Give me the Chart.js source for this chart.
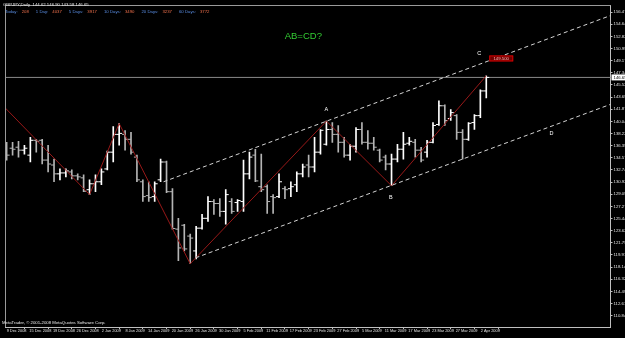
<!DOCTYPE html>
<html>
<head>
<meta charset="utf-8">
<script src="https://cdn.jsdelivr.net/npm/chart.js@4.4.0/dist/chart.umd.min.js"></script>
<style>
  html, body { margin: 0; padding: 0; background: #000; }
  #wrap { width: 625px; height: 338px; position: relative; }
</style>
</head>
<body>
<div id="wrap"><canvas id="chart"></canvas></div>
<script>
// GBPJPY daily bars, 8 Dec 2008 - 2 Apr 2009
const dates = [
  '8 Dec 2008','9 Dec 2008','10 Dec 2008','11 Dec 2008','12 Dec 2008',
  '15 Dec 2008','16 Dec 2008','17 Dec 2008','18 Dec 2008','19 Dec 2008',
  '22 Dec 2008','23 Dec 2008','24 Dec 2008','26 Dec 2008',
  '29 Dec 2008','30 Dec 2008','31 Dec 2008','2 Jan 2009',
  '5 Jan 2009','6 Jan 2009','7 Jan 2009','8 Jan 2009','9 Jan 2009',
  '12 Jan 2009','13 Jan 2009','14 Jan 2009','15 Jan 2009','16 Jan 2009',
  '19 Jan 2009','20 Jan 2009','21 Jan 2009','22 Jan 2009','23 Jan 2009',
  '26 Jan 2009','27 Jan 2009','28 Jan 2009','29 Jan 2009','30 Jan 2009',
  '2 Feb 2009','3 Feb 2009','4 Feb 2009','5 Feb 2009','6 Feb 2009',
  '9 Feb 2009','10 Feb 2009','11 Feb 2009','12 Feb 2009','13 Feb 2009',
  '16 Feb 2009','17 Feb 2009','18 Feb 2009','19 Feb 2009','20 Feb 2009',
  '23 Feb 2009','24 Feb 2009','25 Feb 2009','26 Feb 2009','27 Feb 2009',
  '2 Mar 2009','3 Mar 2009','4 Mar 2009','5 Mar 2009','6 Mar 2009',
  '9 Mar 2009','10 Mar 2009','11 Mar 2009','12 Mar 2009','13 Mar 2009',
  '16 Mar 2009','17 Mar 2009','18 Mar 2009','19 Mar 2009','20 Mar 2009',
  '23 Mar 2009','24 Mar 2009','25 Mar 2009','26 Mar 2009','27 Mar 2009',
  '30 Mar 2009','31 Mar 2009','1 Apr 2009','2 Apr 2009'
];

const opens = [
  135.72,136.01,136.16,135.72,134.97,137.20,137.20,134.23,133.49,132.16,
  132.30,132.45,131.86,131.56,129.78,130.67,130.97,132.90,135.42,138.09,
  138.09,137.35,134.68,130.97,128.89,128.74,131.26,133.94,129.48,123.85,
  124.44,122.81,120.58,124.00,125.48,128.00,127.70,126.52,128.00,127.85,
  128.00,132.16,134.97,130.23,130.23,128.74,128.74,129.93,129.93,130.52,
  132.16,133.49,133.19,135.42,136.61,138.83,138.09,136.90,134.97,136.31,
  138.83,136.90,136.76,135.72,134.68,133.64,134.38,135.86,136.76,136.90,
  135.72,135.42,136.90,139.58,142.39,140.47,140.91,138.39,137.35,139.87,
  140.91,144.62
];
const highs = [
  136.90,136.90,137.05,136.46,137.65,137.35,137.35,136.46,134.38,132.90,
  132.90,132.75,132.16,132.01,131.26,132.01,132.90,135.57,139.28,139.72,
  138.68,138.39,134.97,131.26,130.97,130.97,134.38,134.08,129.93,125.48,
  124.59,123.10,124.29,126.07,128.74,128.30,128.45,129.78,128.45,128.30,
  134.23,135.42,135.86,135.12,130.52,129.04,132.16,130.23,130.97,132.45,
  133.64,134.97,137.65,138.83,140.09,139.87,139.43,137.65,136.61,139.13,
  139.87,138.68,137.65,135.90,134.97,135.12,136.61,138.39,137.65,137.35,
  136.16,137.20,139.87,143.14,142.54,141.80,141.06,138.83,139.87,141.06,
  144.77,146.90
];
const lows = [
  134.23,134.97,134.68,135.12,133.94,135.42,133.64,132.45,130.97,131.26,
  131.71,131.41,131.26,129.48,129.04,129.48,130.52,132.75,133.94,136.46,
  135.72,135.12,130.97,128.00,128.00,128.00,130.97,129.34,123.85,119.10,
  120.58,118.65,119.39,123.85,125.03,126.07,125.77,124.59,126.22,126.52,
  126.52,131.41,130.97,129.48,126.22,126.22,128.60,128.45,128.74,129.48,
  131.71,131.71,132.45,135.12,136.46,136.90,135.42,134.68,134.23,135.42,
  136.61,135.86,135.72,133.94,132.75,130.37,133.94,134.38,136.46,134.68,
  133.94,134.68,136.80,139.43,139.43,140.17,137.35,134.38,137.20,138.83,
  140.61,143.58
];
const closes = [
  134.97,135.86,135.72,136.01,137.20,137.05,134.23,133.64,132.16,132.30,
  132.60,131.86,131.71,129.55,130.67,130.97,132.45,135.42,138.09,138.24,
  137.35,135.42,131.26,128.74,128.59,130.67,133.94,129.48,123.95,121.03,
  120.88,122.51,124.00,125.48,128.00,127.70,126.52,129.04,126.52,128.15,
  132.16,134.68,131.10,129.78,128.00,128.59,130.97,129.78,130.23,132.16,
  133.19,133.19,135.42,138.70,138.83,138.09,136.90,134.97,136.31,138.83,
  136.90,136.76,136.16,134.23,133.64,134.38,135.86,136.61,137.05,135.72,
  134.23,136.90,139.43,142.39,140.17,141.36,138.39,137.35,139.75,140.91,
  144.62,146.65
];

// date labels shown every 4 bars
const xLabelIdx = [1,5,9,13,17,21,25,29,33,37,41,45,49,53,57,61,65,69,73,77,81];
const yTicks = [
  110.845,112.670,114.495,116.320,118.145,119.970,121.795,123.620,125.445,
  127.270,129.095,130.920,132.745,134.570,136.395,138.220,140.045,141.870,
  143.695,145.520,147.345,149.170,150.995,152.820,154.645,156.470
];

// zigzag swings and the channel lines (bar index, price)
const zigzag = [
  {x:-4, y:145.50}, {x:14, y:129.04}, {x:19, y:139.72}, {x:31, y:118.65},
  {x:54, y:140.09}, {x:65, y:130.37}, {x:81, y:146.90}
];
const channelUpper = [{x:26.5, y:130.97}, {x:110, y:158.60}];
const channelLower = [{x:31.9, y:119.54}, {x:110, y:145.24}];
const bidPrice = 146.65;

const notes = [
  {text:'A', x:54, y:141.80},
  {text:'B', x:64.9, y:128.59},
  {text:'C', x:79.8, y:150.26},
  {text:'D', x:92, y:138.24}
];
const statNames = ['Today:','1 Day:','5 Days:','10 Days:','20 Days:','60 Days:'];
const statValues = ['208','4037','3917','3490','3237','3772'];

const SMALL = '4.3px "Liberation Sans", Arial, sans-serif';
const upColor = '#ffffff', downColor = '#b4b4b4';
const barColors = closes.map((c, i) => c >= opens[i] ? upColor : downColor);

const overlay = {
  id: 'overlay',
  afterDraw(chart) {
    const {ctx, chartArea: a, scales: {x, y}} = chart;
    ctx.save();
    // top / left frame
    ctx.strokeStyle = '#9a9a9a';
    ctx.lineWidth = 1;
    ctx.beginPath();
    ctx.moveTo(a.left + 0.5, a.bottom);
    ctx.lineTo(a.left + 0.5, a.top + 0.5);
    ctx.lineTo(a.right, a.top + 0.5);
    ctx.stroke();

    ctx.textBaseline = 'middle';
    ctx.font = SMALL;
    ctx.fillStyle = '#e6e6e6';
    ctx.fillText('GBPJPY,Daily  ' + [opens[81], highs[81], lows[81], closes[81]].map(v => v.toFixed(2)).join(' '), 3, 5);

    // stats row: name then value, in columns
    let cx = 5;
    statNames.forEach((n, i) => {
      ctx.fillStyle = '#5b8fe6';
      ctx.fillText(n, cx, 12);
      cx += ctx.measureText(n).width + 4;
      ctx.fillStyle = '#f0704c';
      ctx.fillText(statValues[i], cx, 12);
      cx += ctx.measureText(statValues[i]).width + 7;
    });

    ctx.fillStyle = '#e6e6e6';
    ctx.fillText('MetaTrader, \u00a9 2001-2008 MetaQuotes Software Corp.', 2, 323);

    // pattern labels
    ctx.textAlign = 'center';
    ctx.font = '5.5px "Liberation Sans", Arial, sans-serif';
    ctx.fillStyle = '#ffffff';
    notes.forEach(n => ctx.fillText(n.text, x.getPixelForValue(n.x), y.getPixelForValue(n.y)));

    ctx.font = '9.5px "Liberation Sans", Arial, sans-serif';
    ctx.fillStyle = '#33cc33';
    ctx.fillText('AB=CD?', x.getPixelForValue(50.1), y.getPixelForValue(152.78));

    // target price tag
    const tx = x.getPixelForValue(81.5), ty = y.getPixelForValue(149.5);
    ctx.fillStyle = '#6e0000';
    ctx.fillRect(tx, ty - 3, 24, 6);
    ctx.strokeStyle = '#d00000';
    ctx.strokeRect(tx + 0.5, ty - 2.5, 23, 5);
    ctx.font = SMALL;
    ctx.fillStyle = '#ffb4b4';
    ctx.fillText('149.500', tx + 12, ty + 0.3);

    // bid price box on the axis
    const by = y.getPixelForValue(bidPrice);
    ctx.fillStyle = '#ffffff';
    ctx.fillRect(a.right + 1, by - 3, 625 - a.right - 1, 6);
    ctx.fillStyle = '#000000';
    ctx.textAlign = 'left';
    ctx.fillText(bidPrice.toFixed(3), a.right + 3, by + 0.3);
    ctx.restore();
  }
};

new Chart(document.getElementById('chart'), {
  type: 'scatter',
  data: {
    datasets: [
      {
        type: 'line',
        data: [{x:-1, y:bidPrice}, {x:105, y:bidPrice}],
        borderColor: '#8a8a8a', borderWidth: 1, pointRadius: 0, order: 6
      },
      {
        type: 'bar',
        data: highs.map((h, i) => ({x: i, y: [lows[i], h]})),
        backgroundColor: barColors, borderWidth: 0,
        barThickness: 1, grouped: false, order: 5
      },
      {
        data: opens.map((o, i) => ({x: i - 0.25, y: o})),
        pointStyle: 'line', pointRadius: 1.5, borderWidth: 1,
        borderColor: barColors, order: 4
      },
      {
        data: closes.map((c, i) => ({x: i + 0.25, y: c})),
        pointStyle: 'line', pointRadius: 1.5, borderWidth: 1,
        borderColor: barColors, order: 4
      },
      {
        type: 'line', data: zigzag,
        borderColor: '#971818', borderWidth: 1, pointRadius: 0, order: 2
      },
      {
        type: 'line', data: channelUpper, borderDash: [4, 3],
        borderColor: '#d4d4d4', borderWidth: 1, pointRadius: 0, order: 1
      },
      {
        type: 'line', data: channelLower, borderDash: [4, 3],
        borderColor: '#d4d4d4', borderWidth: 1, pointRadius: 0, order: 1
      }
    ]
  },
  options: {
    responsive: true,
    maintainAspectRatio: false,
    animation: false,
    layout: { padding: { top: 1, left: 0, right: 0, bottom: 0 } },
    plugins: { legend: { display: false }, tooltip: { enabled: false } },
    scales: {
      x: {
        type: 'linear', position: 'bottom', min: -0.28, max: 101.98, offset: false,
        grid: { drawOnChartArea: false, tickLength: 2, color: '#c0c0c0' },
        border: { color: '#c0c0c0' },
        ticks: {
          autoSkip: false, maxRotation: 0, padding: 0, labelOffset: 4,
          color: '#e0e0e0', font: { family: '"Liberation Sans", Arial', size: 3.9 },
          callback: v => dates[v] ?? ''
        },
        afterBuildTicks: s => { s.ticks = xLabelIdx.map(v => ({value: v})); },
        afterFit: s => { s.height = 11; }
      },
      y: {
        type: 'linear', position: 'right', min: 109.15, max: 157.53,
        grid: { drawOnChartArea: false, tickLength: 2, color: '#c0c0c0' },
        border: { color: '#c0c0c0' },
        ticks: {
          padding: 1, color: '#e0e0e0',
          font: { family: '"Liberation Sans", Arial', size: 4.3 },
          callback: v => v.toFixed(3)
        },
        afterBuildTicks: s => { s.ticks = yTicks.map(v => ({value: v})); },
        afterFit: s => { s.width = 14.5; }
      }
    }
  },
  plugins: [overlay]
});
</script>
</body>
</html>
